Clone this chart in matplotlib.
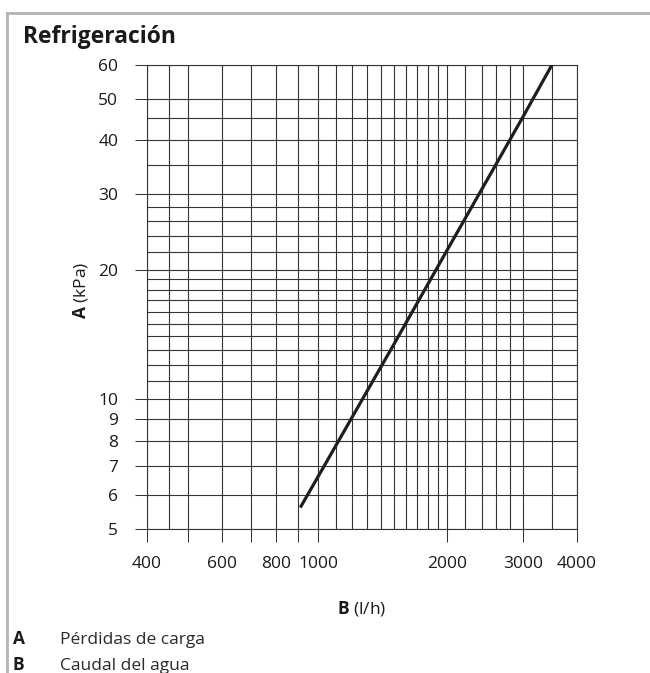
import matplotlib
matplotlib.use("Agg")
import matplotlib.pyplot as plt
from matplotlib.lines import Line2D
from matplotlib import font_manager

# Pressure drop curve: water flow (l/h) vs. pressure loss (kPa)
flow = [910, 1000, 1500, 2000, 2500, 3000, 3500]
pressure = [5.6, 6.6, 13.4, 22.3, 33.0, 45.5, 60.0]

# Axis ticks and grid positions
x_major = [400, 500, 600, 700, 800, 900, 1000, 2000, 3000, 4000]
x_labels = ["400", "", "600", "", "800", "", "1000", "2000", "3000", "4000"]
x_minor = [450, 1100, 1200, 1300, 1400, 1500, 1600, 1700, 1800, 1900,
           2200, 2400, 2600, 2800, 3500]
y_major = [5, 6, 7, 8, 9, 10, 20, 30, 40, 50, 60]
y_labels = ["5", "6", "7", "8", "9", "10", "20", "30", "40", "50", "60"]
y_minor = [11, 12, 13, 14, 15, 16, 17, 18, 19, 22, 24, 26, 28, 35, 45]

title = "Refrigeración"
legend_keys = ["A", "B"]
legend_texts = ["Pérdidas de carga", "Caudal del agua"]

FONT = "Open Sans"
plt.rcParams["font.family"] = [FONT, "DejaVu Sans"]
plt.rcParams["mathtext.fontset"] = "custom"
plt.rcParams["mathtext.rm"] = FONT
plt.rcParams["mathtext.bf"] = FONT + ":bold"

# narrow face for the key notes, if present
names = {f.name for f in font_manager.fontManager.ttflist}
NARROW = "Liberation Sans Narrow" if "Liberation Sans Narrow" in names else FONT
note_size = 13.3 if NARROW != FONT else 12.5

W, H = 650, 673
fig = plt.figure(figsize=(W / 100, H / 100), dpi=100)

def fx(px):
    return px / W

def fy(py):
    return 1 - py / H

left, right, top, bottom = 146.7, 577.0, 64.7, 528.7
ax = fig.add_axes([fx(left), fy(bottom), fx(right) - fx(left), fy(top) - fy(bottom)])
ax.set_xscale("log")
ax.set_yscale("log")
ax.set_xlim(400, 4000)
ax.set_ylim(5, 60)

grid_col = "#363636"
ax.set_xticks(x_major)
ax.set_xticklabels(x_labels)
ax.set_xticks(x_minor, minor=True)
ax.set_xticklabels([], minor=True)
ax.set_yticks(y_major)
ax.set_yticklabels(y_labels)
ax.set_yticks(y_minor, minor=True)
ax.set_yticklabels([], minor=True)

ax.tick_params(axis="x", which="major", direction="out", length=9.5, width=0.75,
               color=grid_col, pad=10, labelsize=12.5, labelcolor="#1a1a1a")
ax.tick_params(axis="y", which="major", direction="out", length=8.5, width=0.75,
               color=grid_col, pad=12, labelsize=12.5, labelcolor="#1a1a1a")
ax.tick_params(which="minor", length=0)

ax.grid(True, which="both", color=grid_col, linewidth=0.8)
for s in ax.spines.values():
    s.set_color(grid_col)
    s.set_linewidth(0.8)

ax.plot(flow, pressure, color="#1e1e1e", linewidth=2.3, solid_capstyle="butt", zorder=5)

# Axis titles
fig.text(fx(80), fy(290), r"$\mathbf{A}$ (kPa)", rotation=90, ha="center", va="center",
         fontsize=12.5, color="#1a1a1a")
fig.text(fx(362), fy(613), r"$\mathbf{B}$ (l/h)", ha="center", va="baseline",
         fontsize=12.5, color="#1a1a1a")

# Title
fig.text(fx(23), fy(43), title, ha="left", va="baseline", fontsize=16.5,
         fontweight="bold", color="#1a1a1a")

# Legend notes
for i, (k, t) in enumerate(zip(legend_keys, legend_texts)):
    base = 644 + 26 * i
    fig.text(fx(13), fy(base), k, ha="left", va="baseline", fontsize=note_size,
             fontweight="bold", family=[NARROW, FONT], color="#1a1a1a")
    fig.text(fx(60), fy(base), t, ha="left", va="baseline", fontsize=note_size,
             family=[NARROW, FONT], color="#2a2a2a")

# Panel frame
frame_col = "#b4b4b4"
fig.add_artist(Line2D([fx(7), fx(W)], [fy(12.7), fy(12.7)], color=frame_col, linewidth=2))
fig.add_artist(Line2D([fx(7), fx(7)], [fy(12.7), fy(H)], color=frame_col, linewidth=2))

fig.savefig("out.png", dpi=100)
